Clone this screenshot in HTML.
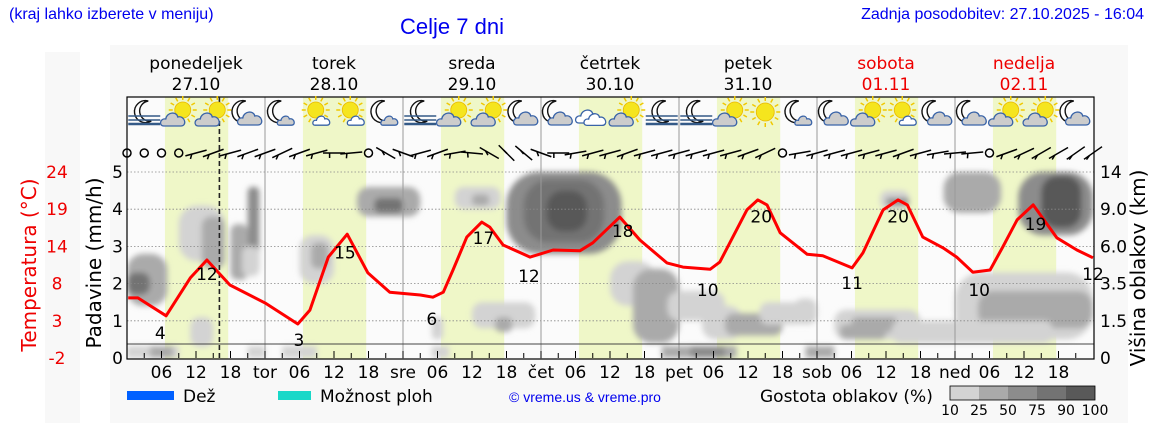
<!DOCTYPE html>
<html><head><meta charset="utf-8">
<style>
html,body{margin:0;padding:0;background:#fff;}
body{width:1152px;height:443px;overflow:hidden;position:relative;font-family:"Liberation Sans",sans-serif;}
.t{position:absolute;white-space:nowrap;}
</style></head>
<body>
<div class="t" style="left:9px;top:6px;font-size:16px;color:#0000ee;">(kraj lahko izberete v meniju)</div>
<div class="t" style="left:400px;top:14px;font-size:22px;color:#0000ee;">Celje 7 dni</div>
<div class="t" style="right:8px;top:6px;font-size:16px;color:#0000ee;">Zadnja posodobitev: 27.10.2025 - 16:04</div>
<svg id="chart" width="1152" height="443" style="position:absolute;left:0;top:0" font-family="DejaVu Sans, sans-serif"></svg>
<script>
// ---- data ----
const dayNames=["ponedeljek","torek","sreda","četrtek","petek","sobota","nedelja"];
const dayDates=["27.10","28.10","29.10","30.10","31.10","01.11","02.11"];
const dayShort=["","tor","sre","čet","pet","sob","ned"];
const tempHours=[0.2,1.9,6.8,11,13.9,17.9,24,29.7,31.8,35,38.3,41.9,45.7,51,53.2,55,56.7,59.1,61.7,63.1,65.4,70.1,74.1,78.8,81,85.7,89.2,93.9,96.7,101.4,103.1,107.8,109.7,111.3,113.6,118.3,121,126.1,128,131.5,134.1,135.7,138.4,141.9,144.3,147.1,150.1,152.3,154.8,157.6,161.7,165.2,168];
const tempValues=[6.4,6.4,3.9,9.2,11.7,8.2,5.7,2.75,4.7,12.1,15.3,9.9,7.2,6.8,6.5,7.2,10.3,14.9,17.0,16.3,13.8,12.1,13.1,13.0,14.1,17.7,14.5,11.3,10.7,10.4,11.4,18.7,20.1,19.4,15.5,12.5,12.3,10.6,12.7,18.7,20.1,19.4,14.9,13.4,12.1,10.0,10.3,13.5,17.3,19.4,14.8,13.1,12.0];
const extremeHours=[5.8,13.9,29.9,37.9,53.0,62.0,69.9,86.2,101.0,110.3,126.1,134.1,148.2,158.0,168.0];
const extremeValues=[4,12,3,15,6,17,12,18,10,20,11,20,10,19,12];
const extremeIsMax=[0,1,0,1,0,1,0,1,0,1,0,1,0,1,1];
const tempTicks=[24,19,14,8,3,-2];
const precipTicks=[0,1,2,3,4,5];
const heightTicks=["14","9.0","6.0","3.5","1.5","0"];
// cloud blobs: start hour, end hour, low level, high level (left axis units), density class 1..5
const cloudStart=[0,0,11,9,13,18,21,20,30,32,40,43,53,57,60,66,69,73,60,64,84,88,90,94,100,104,116,110,123,126,131,132,142,155,159,144,148,133,124];
const cloudEnd=[7,4,15,17,17,21,23,23,36,35,51,48,55,65,63,86,83,80,71,67,92,96,93,104,107,114,120,118,138,134,136,136,152,168,166,168,168,161,132];
const cloudLow=[1.4,1.7,0.3,2.6,2.4,2.1,2.3,2.2,2.0,2.4,3.8,3.9,0.5,4.0,4.1,2.8,3.1,3.4,0.8,0.7,1.4,0.4,0.6,1.0,0.5,0.6,0.9,0.9,0.5,0.7,4.0,4.1,3.9,3.3,3.5,0.5,0.8,0.4,0.5];
const cloudHigh=[2.8,2.3,1.1,4.1,3.8,3.6,4.6,3.0,3.3,3.1,4.6,4.3,1.1,4.6,4.4,5.0,4.8,4.5,1.5,1.1,2.6,2.4,1.8,1.8,1.4,1.2,1.6,1.5,1.3,1.1,4.5,4.3,5.0,5.0,4.9,2.3,1.8,1.0,0.9];
const cloudLevel=[2,4,1,1,2,2,3,1,1,2,2,4,1,1,2,3,4,5,1,2,1,2,2,1,1,2,1,1,1,2,1,3,2,3,5,1,2,1,2];
const rainStart=[0,4,21,27,53,93,98,118];
const rainEnd=[9,8,24,33,56,106,104,123];
const rainLevel=[1,2,1,1,1,2,3,2];
const iconTypes=["fogmoon","suncloud","suncloud","mooncloud","moonsmall","sunsmall","sunsmall","moonsmall","fogmoon","suncloud","suncloud","mooncloud","mooncloud","cloud","suncloud","fogmoon","fogmoon","suncloud","sun","moonsmall","mooncloud","suncloud","sunsmall","mooncloud","mooncloud","suncloud","suncloud","mooncloud"];
// wind direction (deg, line angle) every 3h; -999 = calm
const windAngle=[-999,-999,-999,-999,-15,-20,-15,-20,-20,-25,-20,-15,0,-5,-999,30,20,-15,-20,-10,5,30,45,40,20,0,-10,-15,-15,-20,-15,-15,-15,-15,-15,-15,-20,-25,-999,-10,-15,-15,-15,-15,-15,-20,-15,-10,-5,-5,-999,-20,-25,-30,-30,-35,-35];
// ---- scales ----
const X0=127,HPX=5.75;
function xH(h){return X0+h*HPX;}
function yT(t){return 358-(t+2)*186/26;}
function yP(v){return 358-v*37.2;}
const greys=["#fafafa","#d3d3d3","#aaaaaa","#8c8c8c","#737373","#595959"];
const svg=document.getElementById('chart');
const NS="http://www.w3.org/2000/svg";
function mk(tag,attrs,parent){const e=document.createElementNS(NS,tag);for(const k in attrs)e.setAttribute(k,attrs[k]);(parent||svg).appendChild(e);return e;}
function txt(x,y,s,attrs,parent){const e=mk('text',Object.assign({x:x,y:y},attrs),parent);e.textContent=s;return e;}
// background panels
let p=mk('rect',{x:45,y:52,width:35,height:371,fill:'#f8f8f8'});

p=mk('rect',{x:110,y:45,width:1018,height:378,fill:'#f8f8f8'});

p=mk('rect',{x:127,y:97,width:967,height:262,fill:'#fbfbfb'});

// daylight
for(let d=0;d<7;d++){
  const r=mk('rect',{x:xH(d*24+6.6),y:97,width:11*HPX,height:262,fill:'#eff7c8'});
  
}
// clouds
const defs=mk('defs',{});
const f=mk('filter',{id:'blur',x:'-20%',y:'-20%',width:'140%',height:'140%'},defs);
mk('feGaussianBlur',{stdDeviation:'3'},f);
const clip=mk('clipPath',{id:'plotclip'},defs);
mk('rect',{x:127,y:97,width:967,height:262},clip);
const cgo=mk('g',{"clip-path":'url(#plotclip)'});
const cg=mk('g',{filter:'url(#blur)'},cgo);

for(let i=0;i<cloudStart.length;i++){
  const w=(cloudEnd[i]-cloudStart[i])*HPX,h=(cloudHigh[i]-cloudLow[i])*37.2;
  const e=mk('rect',{x:xH(cloudStart[i]),y:yP(cloudHigh[i]),width:w,height:h,rx:Math.min(w,h)*0.4,fill:greys[cloudLevel[i]]},cg);
  
}
for(let i=0;i<rainStart.length;i++){
  const e=mk('rect',{x:xH(rainStart[i]),y:346,width:(rainEnd[i]-rainStart[i])*HPX,height:12,fill:greys[rainLevel[i]]},cg);
  
}
// gridlines
for(let i=1;i<=5;i++){
  const g=mk('line',{x1:127,x2:1094,y1:yP(i),y2:yP(i),stroke:'#888',"stroke-width":0.8,"stroke-dasharray":'1.5,2'});
  
}
// day separators
for(let d=1;d<7;d++){
  const l=mk('line',{x1:xH(d*24),x2:xH(d*24),y1:97,y2:359,stroke:'#999',"stroke-width":1});
  
}
let sep=mk('line',{x1:127,x2:1094,y1:344,y2:344,stroke:'#444',"stroke-width":1});

// frame
let fr=mk('rect',{x:127,y:97,width:967,height:262,fill:'none',stroke:'#000',"stroke-width":1.2});

// now line
let nl=mk('line',{x1:xH(16.07),x2:xH(16.07),y1:97,y2:359,stroke:'#222',"stroke-width":1.6,"stroke-dasharray":'5,3'});

// ticks
for(let h=3;h<168;h+=3){
  const t=mk('line',{x1:xH(h),x2:xH(h),y1:358,y2:h%6==0?351:353,stroke:'#000',"stroke-width":1});
  
}
// x labels
for(let d=0;d<7;d++){
  for(const hh of [0,6,12,18]){
    let s=hh==0?dayShort[d]:String(hh).padStart(2,'0');
    if(!s)continue;
    const t=txt(xH(d*24+hh),378,s,{"font-size":17,"text-anchor":'middle',fill:'#000'});
    
  }
  const c=d>=5?'#e00':'#000';
  let t=txt(xH(d*24+12),69,dayNames[d],{"font-size":17,"text-anchor":'middle',fill:c});
  
  t=txt(xH(d*24+12),90,dayDates[d],{"font-size":17,"text-anchor":'middle',fill:c});
  
}
// y labels
for(let i=0;i<6;i++){
  const y=yP(5-i)+6;
  let t=txt(57,y,String(tempTicks[i]),{"font-size":17,"text-anchor":'middle',fill:'#e00'});
  
  t=txt(123,y,String(precipTicks[5-i]),{"font-size":17,"text-anchor":'end',fill:'#000'});
  
  t=txt(1100,y,heightTicks[i],{"font-size":17,"text-anchor":'start',fill:'#000'});
  
}
let at=txt(0,0,'Temperatura (°C)',{"font-size":20,"text-anchor":'middle',fill:'#e00',transform:'translate(36,265) rotate(-90)'});

at=txt(0,0,'Padavine (mm/h)',{"font-size":20,"text-anchor":'middle',fill:'#000',transform:'translate(101,263) rotate(-90)'});

at=txt(0,0,'Višina oblakov (km)',{"font-size":20,"text-anchor":'middle',fill:'#000',transform:'translate(1145,268) rotate(-90)'});

// temperature line
let dstr='';
for(let i=0;i<tempHours.length;i++){dstr+=(i?'L':'M')+xH(tempHours[i]).toFixed(1)+','+yT(tempValues[i]).toFixed(1);}
let tl=mk('path',{d:dstr,fill:'none',stroke:'#f00',"stroke-width":3,"stroke-linejoin":'round'});

for(let i=0;i<extremeHours.length;i++){
  const y=yT(extremeValues[i])+(extremeIsMax[i]?22:24);
  const t=txt(xH(extremeHours[i]),y,String(extremeValues[i]),{"font-size":17,"text-anchor":'middle',fill:'#000'});
  
}
// icons
function sun(g,cx,cy,r){
  for(let a=0;a<360;a+=30){const rad=a*Math.PI/180;mk('line',{x1:cx+Math.cos(rad)*(r+2),y1:cy+Math.sin(rad)*(r+2),x2:cx+Math.cos(rad)*(r+6),y2:cy+Math.sin(rad)*(r+6),stroke:'#f0c800',"stroke-width":1.5},g);}
  mk('circle',{cx:cx,cy:cy,r:r,fill:'#f5e51e',stroke:'#e8b800',"stroke-width":0.8},g);
}
function moon(g,cx,cy){mk('path',{d:`M${cx+3},${cy-11} A11,11 0 1 0 ${cx+6},${cy+9} A9,9 0 1 1 ${cx+3},${cy-11}Z`,fill:'#fff',stroke:'#111',"stroke-width":1.4},g);}
function cloud(g,cx,cy,s,fill){
  mk('path',{d:`M${cx-11*s},${cy+6*s} C${cx-16*s},${cy+6*s} ${cx-15*s},${cy-2*s} ${cx-9*s},${cy-1*s} C${cx-8*s},${cy-8*s} ${cx+2*s},${cy-9*s} ${cx+3*s},${cy-3*s} C${cx+10*s},${cy-5*s} ${cx+13*s},${cy+6*s} ${cx+6*s},${cy+6*s}Z`,fill:fill,stroke:'#3a64a8',"stroke-width":1.3},g);}
function fog(g,cx,cy){for(let k=0;k<3;k++)mk('line',{x1:cx-16,x2:cx+16,y1:cy+2+k*4,y2:cy+2+k*4,stroke:'#345a88',"stroke-width":k==2?2.5:1.5},g);}
for(let i=0;i<iconTypes.length;i++){
  const cx=xH(3+i*6),cy=114;
  const g=mk('g',{});
  
  const ty=iconTypes[i];
  if(ty=='fogmoon'){moon(g,cx+1,cy-2);fog(g,cx,cy);}
  else if(ty=='suncloud'){sun(g,cx+4,cy-4,8);cloud(g,cx-4,cy+6,1,'#ccc');}
  else if(ty=='sunsmall'){sun(g,cx-1,cy-4,8);cloud(g,cx+6,cy+7,0.7,'#fff');}
  else if(ty=='sun'){sun(g,cx,cy-2,9);}
  else if(ty=='mooncloud'){moon(g,cx-5,cy-2);cloud(g,cx+4,cy+5,1,'#ccc');}
  else if(ty=='moonsmall'){moon(g,cx-4,cy-2);cloud(g,cx+5,cy+7,0.7,'#ccc');}
  else if(ty=='cloud'){cloud(g,cx-3,cy+3,1,'#fff');cloud(g,cx+4,cy+6,0.9,'#fff');}
}
// wind
for(let i=0;i<windAngle.length;i++){
  const cx=xH(i*3),cy=153;
  const g=mk('g',{});
  
  if(windAngle[i]==-999){mk('circle',{cx:cx,cy:cy,r:4,fill:'none',stroke:'#000',"stroke-width":1.5},g);continue;}
  const a=windAngle[i]*Math.PI/180,L=11;
  const dx=Math.cos(a)*L,dy=Math.sin(a)*L;
  mk('line',{x1:cx-dx,y1:cy-dy,x2:cx+dx,y2:cy+dy,stroke:'#000',"stroke-width":1.5},g);
  mk('line',{x1:cx-dx*0.4,y1:cy-dy*0.4,x2:cx-dx*0.4+Math.sin(a)*5,y2:cy-dy*0.4+Math.cos(a)*5,stroke:'#000',"stroke-width":1.5},g);
}
// legend
let lg=mk('rect',{x:127,y:391,width:47,height:9,fill:'#0060ff'});

lg=txt(183,402,'Dež',{"font-size":17,fill:'#000'});

lg=mk('rect',{x:278,y:391,width:33,height:9,fill:'#19d8c8'});

lg=txt(320,402,'Možnost ploh',{"font-size":17,fill:'#000'});

lg=txt(585,402,'© vreme.us & vreme.pro',{"font-size":14,fill:'#0000ee',"text-anchor":'middle',"font-family":'Liberation Sans, sans-serif'});

lg=txt(760,402,'Gostota oblakov (%)',{"font-size":17,fill:'#000'});

const scaleLabels=["10","25","50","75","90","100"];
for(let i=0;i<5;i++){
  const r=mk('rect',{x:950+i*29,y:386,width:29,height:14,fill:greys[i+1]});
  
}
lg=mk('rect',{x:950,y:386,width:145,height:14,fill:'none',stroke:'#000',"stroke-width":0.8});

for(let i=0;i<6;i++){
  const t=txt(950+i*29,415,scaleLabels[i],{"font-size":14,"text-anchor":'middle',fill:'#000'});
  
}
</script>
</body></html>
